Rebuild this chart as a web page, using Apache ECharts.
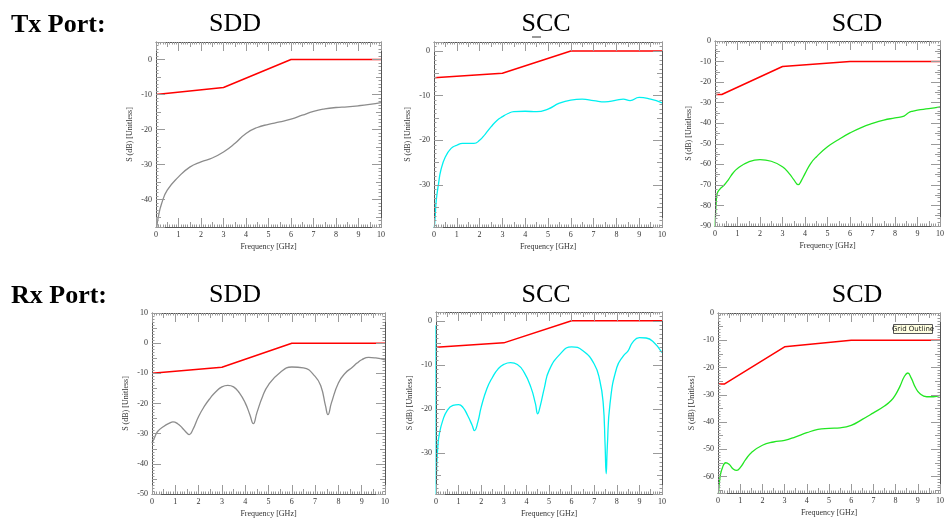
<!DOCTYPE html>
<html><head><meta charset="utf-8">
<script src="https://cdn.jsdelivr.net/npm/echarts@6/dist/echarts.min.js"></script>
<style>html,body{margin:0;padding:0;background:#fff}#c{width:947px;height:521px}</style>
</head><body><div id="c"></div><script>
// ---- data ----
const rowLabels = ['Tx Port:', 'Rx Port:'];
const panelTitles = ['SDD', 'SCC', 'SCD', 'SDD', 'SCC', 'SCD'];
const xTicks = [0, 1, 2, 3, 4, 5, 6, 7, 8, 9, 10];
const xName = 'Frequency [GHz]';
const yName = 'S (dB) [Unitless]';

const maskSddF = [0, 3, 6, 10];
const maskSddV = [-10, -8, 0, 0];
const maskSccF = [0, 3, 6, 10];
const maskSccV = [-6, -5, 0, 0];
const maskScdF = [0, 0.3, 3, 6, 10];
const maskScdV = [-26, -26, -12.4, -10, -10];

const txSddF = [0.03,0.1,0.25,0.5,1,1.5,2,2.5,3,3.5,4,4.5,5,5.5,6,6.5,7,7.5,8,8.5,9,9.5,10];
const txSddV = [-48,-45,-41.1,-37.3,-33.5,-30.7,-29.2,-28.1,-26.4,-24,-21.1,-19.4,-18.5,-17.8,-17,-15.9,-14.8,-14.1,-13.7,-13.5,-13.2,-12.8,-12.3];

const txSccF = [0.01,0.05,0.1,0.2,0.3,0.5,0.75,1,1.25,1.5,1.75,2,2.25,2.5,2.75,3,3.25,3.5,4,4.5,5,5.5,6,6.5,7,7.5,8,8.3,8.6,9,9.5,10];
const txSccV = [-40,-37.2,-33.4,-29.7,-26.7,-23.7,-21.8,-21.1,-20.7,-20.7,-20.7,-20,-18.6,-17,-15.6,-14.7,-14,-13.6,-13.5,-13.6,-13,-11.7,-11,-10.8,-11.1,-11.4,-11,-10.8,-11.1,-10.4,-10.8,-11.6];

const txScdF = [0.01,0.02,0.05,0.1,0.2,0.4,0.6,0.8,1,1.5,2,2.5,3,3.3,3.5,3.7,3.85,4,4.25,4.5,5,5.5,6,6.5,7,7.5,8,8.4,8.6,8.8,9,9.5,10];
const txScdV = [-91,-85.6,-79,-74.2,-72.3,-70.2,-67.4,-64.2,-62,-58.8,-57.7,-58.5,-61.2,-64.5,-67.4,-69.9,-67.7,-64.5,-59.6,-56.4,-51.5,-47.9,-44.7,-42.1,-40.1,-38.5,-37.4,-36.5,-34.9,-34.1,-33.6,-32.9,-32];

const rxSddF = [0,0.1,0.25,0.5,0.75,0.9,1.1,1.3,1.5,1.6,1.75,2,2.25,2.5,2.75,3,3.25,3.5,3.75,4,4.2,4.35,4.5,4.75,5,5.5,6,6.5,7,7.25,7.45,7.55,7.7,8,8.3,8.6,8.8,9,9.3,9.6,10];
const rxSddV = [-33.1,-31.4,-29.2,-27.6,-26.5,-26.1,-26.7,-28.1,-29.8,-30.3,-28.7,-24.3,-20.9,-18.2,-16,-14.5,-14,-14.5,-16.5,-19.8,-23.7,-26.7,-23.1,-17.6,-13.8,-9.7,-7.9,-8.2,-11,-14.3,-20.9,-23.7,-19.8,-13.2,-9.9,-8,-6.6,-5.5,-4.7,-4.9,-5.5];

const rxSccF = [0,0.01,0.03,0.08,0.15,0.3,0.5,0.75,1,1.2,1.4,1.6,1.7,1.85,2,2.25,2.5,2.75,3,3.3,3.6,3.9,4.2,4.4,4.5,4.6,4.8,5,5.5,6,6.5,7,7.25,7.4,7.48,7.53,7.58,7.7,8,8.3,8.5,8.7,9,9.3,9.6,10];
const rxSccV = [-1,-39.3,-33.2,-28.6,-25.6,-22.6,-20.3,-19.2,-19,-19.7,-21.5,-23.7,-24.9,-23,-19.6,-15.4,-12.8,-10.9,-9.9,-9.5,-9.9,-11.7,-15.1,-18.8,-21.1,-19.6,-15.1,-11.3,-7.5,-5.9,-6.8,-9.8,-13.6,-18.8,-27.9,-34.7,-28.6,-18.8,-10.6,-7.9,-6.8,-4.9,-3.8,-3.9,-4.7,-7.2];

const rxScdF = [0.02,0.05,0.1,0.2,0.35,0.5,0.7,0.85,1,1.25,1.5,2,2.5,3,3.5,4,4.5,5,5.5,6,6.5,7,7.5,7.8,8,8.2,8.4,8.55,8.7,8.9,9.1,9.4,9.7,10];
const rxScdV = [-66.5,-63.4,-59.8,-56.7,-54.9,-55.5,-57.3,-57.7,-56.7,-53.7,-51.2,-48.5,-47.3,-46.7,-45.4,-43.9,-42.7,-42.3,-42.1,-41.2,-39,-36.6,-34.1,-32.1,-29.9,-26.8,-23.2,-22,-23.8,-27.4,-29.6,-30.7,-30.7,-30.2];

const yMins = [-47.8, -39.4, -90, -50, -39.3, -66];
const yMaxs = [5, 2, 0, 10, 2, 0];

// ---- layout ----
const grids = [
  {left:156, top:42, width:225, height:185},
  {left:434, top:42, width:228, height:185},
  {left:715, top:41, width:230, height:185},
  {left:152, top:313, width:233, height:181},
  {left:436, top:312, width:226, height:182},
  {left:718, top:313, width:234, height:180}
];
const titleX = [235, 546, 857, 235, 546, 857];
const titleY = [37, 37, 37, 308, 308, 308];
const yMinorSplit = [10, 10, 5, 10, 10, 10];
const curveColors = ['#8c8c8c', '#00f0f0', '#22e622', '#8c8c8c', '#00f0f0', '#22e622'];
const curveF = [txSddF, txSccF, txScdF, rxSddF, rxSccF, rxScdF];
const curveV = [txSddV, txSccV, txScdV, rxSddV, rxSccV, rxScdV];
const maskF = [maskSddF, maskSccF, maskScdF, maskSddF, maskSccF, maskScdF];
const maskV = [maskSddV, maskSccV, maskScdV, maskSddV, maskSccV, maskScdV];

const serif = '"Liberation Serif", "DejaVu Serif", serif';
const tickCol = '#9a9a9a';
const lineCol = '#555';

const xAxes = [], yAxes = [], series = [];
for (let p = 0; p < 6; p++) {
  ['bottom', 'top'].forEach(pos => {
    [true, false].forEach(main => {
      const lbl = main && pos === 'bottom';
      xAxes.push({
        type: 'value', gridIndex: p, position: pos, min: xTicks[0], max: xTicks[xTicks.length - 1],
        interval: main ? 1 : 0.5,
        axisLine: {show: main, onZero: false, lineStyle: {color: lineCol, width: 1}},
        axisTick: {show: true, inside: true, length: main ? 9 : 5, lineStyle: {color: tickCol}},
        minorTick: {show: main, splitNumber: 10, length: 2.5, lineStyle: {color: tickCol}},
        axisLabel: {show: lbl, fontFamily: serif, fontSize: 8, color: '#333', margin: 4,
          formatter: v => (Math.abs(v - Math.round(v)) < 1e-6 ? String(Math.round(v)) : '')},
        splitLine: {show: false},
        name: lbl ? xName : '', nameLocation: 'middle', nameGap: 16,
        nameTextStyle: {fontFamily: serif, fontSize: 8, color: '#333'},
        z: 5
      });
    });
  });
  ['left', 'right'].forEach(pos => {
    [true, false].forEach(main => {
      const lbl = main && pos === 'left';
      const iv = main ? 10 : 5;
      yAxes.push({
        type: 'value', gridIndex: p, position: pos, min: yMins[p], max: yMaxs[p],
        minInterval: iv, maxInterval: iv, splitNumber: 5,
        axisLine: {show: main, onZero: false, lineStyle: {color: lineCol, width: 1}},
        axisTick: {show: true, inside: true, length: main ? 9 : 5, lineStyle: {color: tickCol}},
        minorTick: {show: main, splitNumber: yMinorSplit[p], length: 2.5, lineStyle: {color: tickCol}},
        axisLabel: {show: lbl, fontFamily: serif, fontSize: 8, color: '#333', margin: 4,
          showMinLabel: true, showMaxLabel: true,
          formatter: v => (Math.abs(v / 10 - Math.round(v / 10)) < 1e-6 ? String(Math.round(v)) : '')},
        splitLine: {show: false},
        name: lbl ? yName : '', nameLocation: 'middle', nameGap: 22,
        nameTextStyle: {fontFamily: serif, fontSize: 8, color: '#333'},
        z: 5
      });
    });
  });
  series.push({
    type: 'line', xAxisIndex: p * 4, yAxisIndex: p * 4, showSymbol: false, symbol: 'none',
    data: maskF[p].map((x, i) => [x, maskV[p][i]]),
    lineStyle: {color: '#ff0000', width: 1.5}, animation: false, z: 3
  });
  series.push({
    type: 'line', xAxisIndex: p * 4, yAxisIndex: p * 4, showSymbol: false, symbol: 'none',
    smooth: 0.5,
    data: curveF[p].map((x, i) => [x, curveV[p][i]]),
    lineStyle: {color: curveColors[p], width: 1.3}, animation: false, z: 2
  });
}

const graphics = [];
rowLabels.forEach((t, r) => {
  graphics.push({type: 'text', left: 11, top: r === 0 ? 12 : 283, style: {
    text: t, font: 'bold 26px ' + serif, fill: '#000'}});
});
panelTitles.forEach((t, p) => {
  graphics.push({type: 'text', x: titleX[p], y: titleY[p], style: {
    text: t, font: '26px ' + serif, fill: '#000', textAlign: 'center', textVerticalAlign: 'bottom'}});
});
graphics.push({type: 'line', shape: {x1: 532, y1: 37, x2: 541, y2: 37}, style: {stroke: '#333', lineWidth: 1}});
graphics.push({type: 'rect', shape: {x: 893.5, y: 324.5, width: 39, height: 9},
  style: {fill: '#ffffe1', stroke: '#555', lineWidth: 1}, z: 10});
graphics.push({type: 'text', x: 913, y: 329.5, z: 11, style: {text: 'Grid Outline',
  font: '7px "DejaVu Sans", sans-serif', fill: '#222', textAlign: 'center', textVerticalAlign: 'middle'}});

const chart = echarts.init(document.getElementById('c'), null, {renderer: 'canvas'});
chart.setOption({
  animation: false,
  backgroundColor: '#fff',
  grid: grids.map(g => Object.assign({containLabel: false}, g)),
  xAxis: xAxes,
  yAxis: yAxes,
  series: series,
  graphic: graphics
});
</script></body></html>
